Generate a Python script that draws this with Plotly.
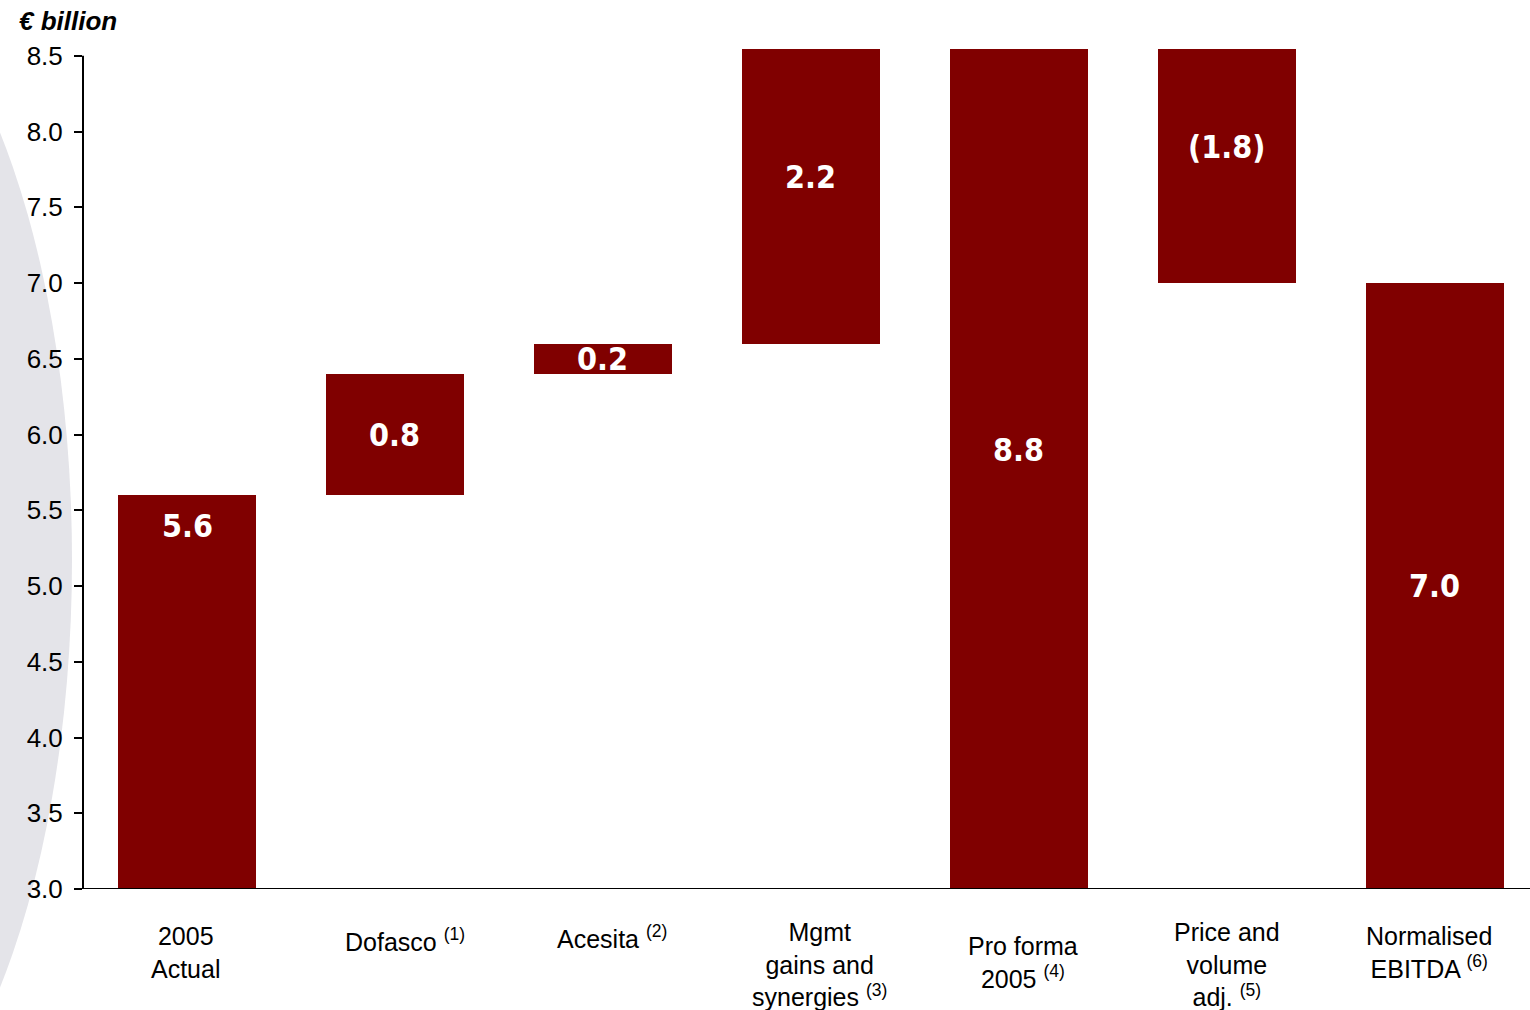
import plotly.graph_objects as go

# EBITDA bridge, € billion
categories = ["2005<br>Actual", "Dofasco <sup>(1)</sup>", "Acesita <sup>(2)</sup>",
              "Mgmt<br>gains and<br>synergies <sup>(3)</sup>", "Pro forma<br>2005 <sup>(4)</sup>",
              "Price and<br>volume<br>adj. <sup>(5)</sup>", "Normalised<br>EBITDA <sup>(6)</sup>"]
steps = [5.6, 0.8, 0.2, 2.2, None, -1.8, None]      # None = running total
value_labels = ["5.6", "0.8", "0.2", "2.2", "8.8", "(1.8)", "7.0"]
y_ticks = [3.0, 3.5, 4.0, 4.5, 5.0, 5.5, 6.0, 6.5, 7.0, 7.5, 8.0, 8.5]

BAR = "#800000"
FONT = "Liberation Sans, Arial, sans-serif"
VAL_FONT = dict(family="DejaVu Sans Condensed, DejaVu Sans, sans-serif", size=32, color="white")

# build floating bar bases/heights from the step values
bases, heights, running = [], [], 0.0
for i, s in enumerate(steps):
    if s is None:
        bases.append(0.0)
        heights.append(round(running, 2))
    elif i == 0:
        bases.append(0.0)
        heights.append(s)
        running = s
    else:
        lo = running + min(s, 0)
        bases.append(round(lo, 2))
        heights.append(abs(s))
        running = round(running + s, 2)

xs = list(range(len(categories)))
fig = go.Figure(go.Bar(x=xs, y=heights, base=bases, width=0.665,
                       marker=dict(color=BAR, line=dict(width=0)),
                       hoverinfo="skip"))

Y_MIN, Y_TOP = 3.0, 8.545

annotations = []
# value labels: first bar sits just under its top, the rest centred on the full bar
for i, (b, h, t) in enumerate(zip(bases, heights, value_labels)):
    top = b + h
    if i == 0:
        annotations.append(dict(x=i, y=top, xref="x", yref="y", text=f"<b>{t}</b>",
                                showarrow=False, yanchor="middle", yshift=-31,
                                font=VAL_FONT))
    else:
        lo = max(b, Y_MIN)
        annotations.append(dict(x=i, y=(lo + top) / 2, xref="x", yref="y",
                                text=f"<b>{t}</b>", showarrow=False, yanchor="middle",
                                font=VAL_FONT))

# category labels beneath the axis
label_centres = [-63, -51, -48, -75, -73, -75, -63]
label_dx = [-2, 10, 9, 9, 4, 0, -6]
for i, c in enumerate(categories):
    annotations.append(dict(x=i, y=0, xref="x", yref="paper", text=c, showarrow=False,
                            yanchor="middle", xanchor="center", align="center",
                            yshift=label_centres[i], xshift=label_dx[i],
                            font=dict(family=FONT, size=25, color="black")))

annotations.append(dict(x=-0.0456, y=1.0333, xref="paper", yref="paper",
                        text="<b><i>€ billion</i></b>", showarrow=False,
                        xanchor="left", yanchor="middle",
                        font=dict(family=FONT, size=26, color="black")))

shapes = [
    # soft grey arc at the left edge of the page
    dict(type="circle", xref="paper", yref="paper", layer="below",
         x0=(-450 - 83) / 1447, x1=(72 - 83) / 1447,
         y0=(889 - 1180) / 840, y1=(889 - (-60)) / 840,
         fillcolor="#e4e4e9", line=dict(width=0)),
    # axis lines
    dict(type="line", xref="paper", yref="y", x0=0, x1=0, y0=Y_MIN, y1=8.5,
         line=dict(color="black", width=2)),
    dict(type="line", xref="paper", yref="y", x0=0, x1=1, y0=Y_MIN, y1=Y_MIN,
         line=dict(color="black", width=2)),
]

fig.update_layout(
    width=1530, height=1010,
    margin=dict(l=83, r=0, t=49, b=121),
    paper_bgcolor="white", plot_bgcolor="rgba(0,0,0,0)",
    showlegend=False, bargap=0,
    annotations=annotations, shapes=shapes,
    xaxis=dict(range=[-0.5, 6.457], showticklabels=False, ticks="", showgrid=False,
               zeroline=False, showline=False, fixedrange=True),
    yaxis=dict(range=[Y_MIN, Y_TOP], tickvals=y_ticks,
               ticktext=[f"{v:.1f}" for v in y_ticks],
               ticks="outside", ticklen=8, tickwidth=1.5, tickcolor="black",
               ticklabelstandoff=6,
               tickfont=dict(family=FONT, size=26, color="black"),
               showgrid=False, zeroline=False, showline=False, fixedrange=True),
)

fig.write_html("out.html")
